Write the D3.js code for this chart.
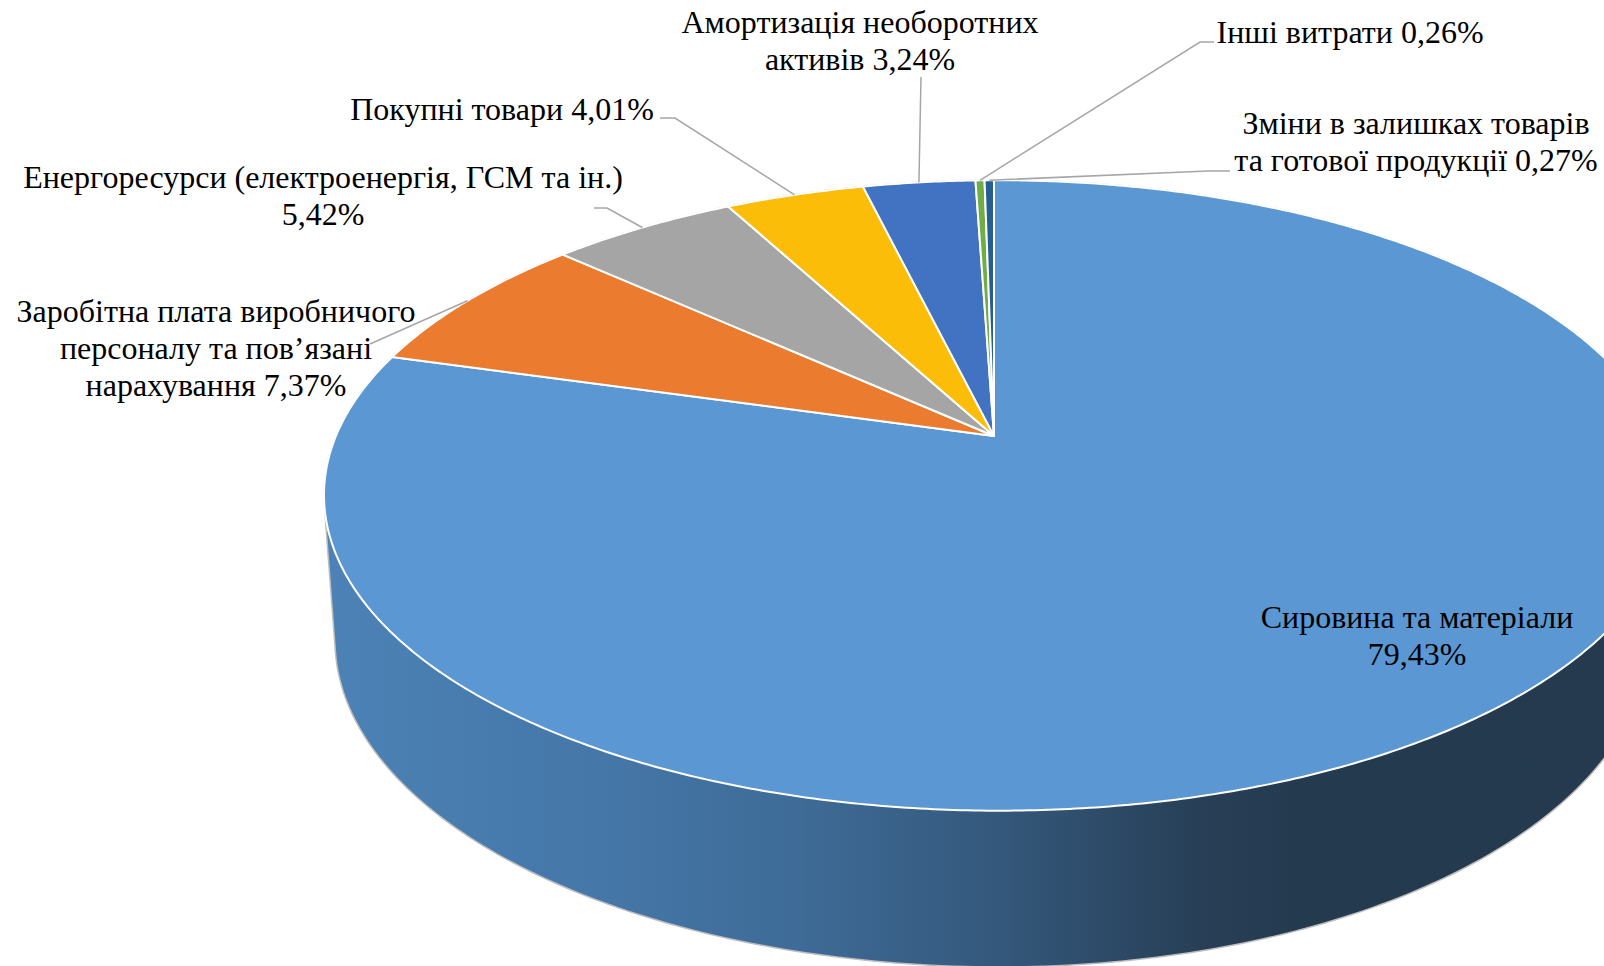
<!DOCTYPE html>
<html>
<head>
<meta charset="utf-8">
<script src="https://cdn.jsdelivr.net/npm/d3@7"></script>
<style>
  html, body { margin: 0; background: #fff; }
  text { font-family: "Liberation Serif", serif; font-size: 32px; fill: #000; text-anchor: middle; }
</style>
</head>
<body>
<div id="chart"></div>
<script>
const categories = [
  'Сировина та матеріали',
  'Заробітна плата виробничого персоналу та пов’язані нарахування',
  'Енергоресурси (електроенергія, ГСМ та ін.)',
  'Покупні товари',
  'Амортизація необоротних активів',
  'Інші витрати',
  'Зміни в залишках товарів та готової продукції'
];
const values = [79.43, 7.37, 5.42, 4.01, 3.24, 0.26, 0.27];
const colors = ['#5b98d3', '#ea7b2f', '#a5a5a5', '#fbbd08', '#4272c2', '#70ad47', '#255e91'];

// label line breaks, the value gets added to the last line
const labelLines = [
  ['Сировина та матеріали', ''],
  ['Заробітна плата виробничого', 'персоналу та пов’язані', 'нарахування '],
  ['Енергоресурси (електроенергія, ГСМ та ін.)', ''],
  ['Покупні товари '],
  ['Амортизація необоротних', 'активів '],
  ['Інші витрати '],
  ['Зміни в залишках товарів', 'та готової продукції ']
];

// label placement and leader elbows, in page pixels
const labelPos = [
  {x: 1417, y: 628},
  {x: 216, y: 322, elbow: [[370, 344]]},
  {x: 323, y: 188, elbow: [[594, 208], [607, 208]]},
  {x: 502, y: 120, elbow: [[660, 118], [675, 118]]},
  {x: 860, y: 33, elbow: [[921, 77]]},
  {x: 1350, y: 43, elbow: [[1214, 42], [1200, 42]]},
  {x: 1416, y: 134, elbow: [[1230, 171], [1208, 171]]}
];
const lineHeight = 37;

const wallStops = [
  [324, '#4c82b6'], [600, '#4577a8'], [800, '#3e6b97'], [1000, '#34587b'],
  [1200, '#283f57'], [1300, '#243a4f'], [1604, '#253a4e']
];

const width = 1604;
const height = 966;

// perspective of the top face: unit circle to page pixels
const apex = {x: 994, y: 436};
const R = 662, S = 304, k = -0.1886, m = -0.006;
const project = a => {
  const u = Math.sin(a), v = -Math.cos(a);
  const w = 1 + k * v + m * u;
  return [apex.x + R * u / w, apex.y + S * v / w];
};
const arcPoints = (a0, a1) => {
  const n = Math.max(2, Math.ceil((a1 - a0) * 120));
  return d3.range(n + 1).map(i => project(a0 + (a1 - a0) * i / n));
};

// lower edge of the wall, a bit wider to the left
const lowerRim = {x: 1000, y: 640, left: 665, right: 648, ry: 327};

const svg = d3.select('#chart')
  .append('svg')
  .attr('width', width)
  .attr('height', height)
  .style('display', 'block');

svg.append('defs')
  .append('linearGradient')
  .attr('id', 'wall')
  .attr('gradientUnits', 'userSpaceOnUse')
  .attr('x1', 324).attr('x2', 1604).attr('y1', 0).attr('y2', 0)
  .selectAll('stop')
  .data(wallStops)
  .join('stop')
  .attr('offset', d => (d[0] - 324) / (1604 - 324))
  .attr('stop-color', d => d[1]);

// side wall = hull of the top rim and the lower rim
const rimPoints = arcPoints(0, Math.PI * 2);
const lowerPoints = d3.range(360).map(i => {
  const t = i * Math.PI / 180;
  const c = Math.cos(t);
  return [lowerRim.x + (c < 0 ? lowerRim.left : lowerRim.right) * c, lowerRim.y + lowerRim.ry * Math.sin(t)];
});
const line = d3.line();
svg.append('path')
  .attr('d', line(d3.polygonHull(rimPoints.concat(lowerPoints))) + 'Z')
  .attr('fill', 'url(#wall)')
  .attr('stroke', '#bdbdbd')
  .attr('stroke-width', 1.5);

const pie = d3.pie().sort(null).value(d => d);
const slices = pie(values);

svg.selectAll('path.slice')
  .data(slices)
  .join('path')
  .attr('class', 'slice')
  .attr('d', d => line([[apex.x, apex.y], ...arcPoints(d.startAngle, d.endAngle)]) + 'Z')
  .attr('fill', (d, i) => colors[i])
  .attr('stroke', '#fff')
  .attr('stroke-width', 2)
  .attr('stroke-linejoin', 'round');

// leaders
svg.selectAll('path.leader')
  .data(slices.filter((d, i) => labelPos[i].elbow))
  .join('path')
  .attr('class', 'leader')
  .attr('d', d => line([...labelPos[d.index].elbow, project((d.startAngle + d.endAngle) / 2)]))
  .attr('fill', 'none')
  .attr('stroke', '#a6a6a6')
  .attr('stroke-width', 1.5);

// labels
const fmt = v => v.toFixed(2).replace('.', ',') + '%';
svg.selectAll('text')
  .data(slices)
  .join('text')
  .attr('aria-label', (d, i) => categories[i])
  .attr('x', (d, i) => labelPos[i].x)
  .attr('y', (d, i) => labelPos[i].y)
  .selectAll('tspan')
  .data((d, i) => labelLines[i].map((t, j, all) => j === all.length - 1 ? t + fmt(d.value) : t)
    .map(t => ({t, i})))
  .join('tspan')
  .attr('x', d => labelPos[d.i].x)
  .attr('dy', (d, j) => j === 0 ? 0 : lineHeight)
  .text(d => d.t);
</script>
</body>
</html>
